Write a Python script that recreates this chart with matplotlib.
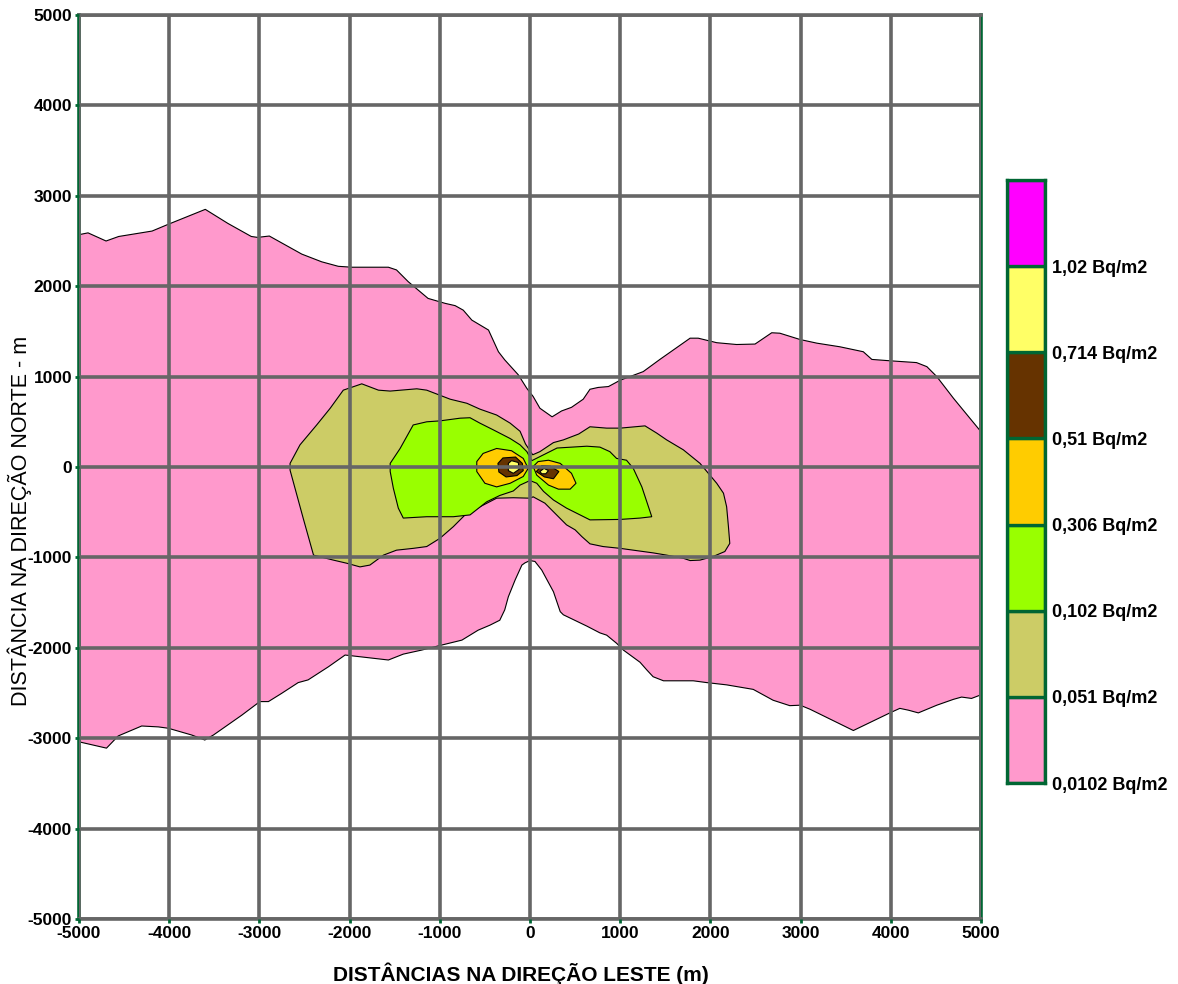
import matplotlib
matplotlib.use("Agg")
import matplotlib.pyplot as plt

plt.rcParams['font.family'] = ['Liberation Sans', 'DejaVu Sans']

# Deposition contour levels (Bq/m2) and the fill used above each level
LEVEL_LABELS = ["0,0102 Bq/m2", "0,051 Bq/m2", "0,102 Bq/m2", "0,306 Bq/m2",
                "0,51 Bq/m2", "0,714 Bq/m2", "1,02 Bq/m2"]
LEVEL_COLORS = ["#FF99CC", "#CCCC66", "#99FF00", "#FFCC00",
                "#663300", "#FFFF66", "#FF00FF"]

TICKS = list(range(-5000, 5001, 1000))

# Contour outlines, (east m, north m)
PINK = [(-5000, 2570), (-4900, 2590), (-4700, 2500), (-4560, 2550), (-4190, 2610),
        (-4010, 2685), (-3600, 2850), (-3350, 2695), (-3090, 2550), (-3020, 2540),
        (-2890, 2555), (-2530, 2355), (-2310, 2270), (-2125, 2220), (-1975, 2210),
        (-1570, 2210), (-1480, 2180), (-1350, 2050), (-1130, 1865), (-940, 1810),
        (-830, 1785), (-740, 1735), (-645, 1625), (-460, 1515), (-350, 1275),
        (-280, 1185), (-130, 1020), (-35, 870), (35, 780), (110, 650), (245, 555),
        (350, 620), (460, 660), (590, 750), (665, 860), (755, 880), (870, 890),
        (1000, 960), (1255, 1055), (1440, 1190), (1775, 1425), (1865, 1425),
        (2070, 1375), (2290, 1355), (2495, 1360), (2680, 1485), (2770, 1480),
        (2995, 1410), (3180, 1370), (3435, 1330), (3695, 1275), (3790, 1190),
        (3990, 1175), (4285, 1155), (4400, 1110), (4510, 1000), (4695, 760),
        (5000, 390), (5000, -2520), (4895, -2560), (4785, -2545), (4695, -2570),
        (4510, -2635), (4305, -2720), (4195, -2690), (4100, -2670), (3990, -2720),
        (3585, -2915), (3105, -2680), (2995, -2635), (2880, -2640), (2695, -2580),
        (2475, -2460), (2180, -2410), (1960, -2385), (1810, -2365), (1480, -2365),
        (1365, -2320), (1295, -2245), (1220, -2160), (1035, -2025), (960, -1950),
        (850, -1860), (775, -1835), (630, -1760), (370, -1635), (335, -1600),
        (260, -1380), (130, -1140), (55, -1045), (0, -1035), (-55, -1060),
        (-90, -1085), (-165, -1250), (-240, -1435), (-280, -1580), (-335, -1695),
        (-445, -1750), (-575, -1805), (-755, -1915), (-980, -1970), (-1200, -2025),
        (-1405, -2070), (-1570, -2135), (-2050, -2080), (-2235, -2210),
        (-2460, -2355), (-2570, -2385), (-2755, -2505), (-2900, -2595),
        (-2995, -2595), (-3195, -2745), (-3510, -2965), (-3605, -3020),
        (-3750, -2965), (-4010, -2890), (-4120, -2875), (-4305, -2865),
        (-4565, -2975), (-4695, -3110), (-5000, -3040)]

KHAKI = [(-2660, 40), (-2550, 245), (-2365, 465), (-2215, 650), (-2070, 850),
         (-1865, 920), (-1680, 850), (-1550, 840), (-1255, 865), (-1145, 850),
         (-885, 750), (-700, 705), (-555, 640), (-370, 575), (-220, 485),
         (-110, 395), (-50, 255), (30, 135), (110, 170), (260, 270), (370, 300),
         (540, 365), (665, 445), (850, 430), (1000, 430), (1275, 455), (1405, 375),
         (1515, 300), (1700, 190), (1885, 40), (2070, -180), (2145, -290),
         (2180, -440), (2200, -660), (2215, -845), (2160, -935), (2030, -990),
         (1885, -1030), (1775, -1035), (1700, -1010), (1515, -975), (1365, -950),
         (1145, -920), (1000, -900), (810, -880), (665, -850), (575, -770),
         (500, -695), (405, -640), (260, -495), (165, -400), (35, -330), (0, -345),
         (-185, -340), (-370, -345), (-555, -440), (-700, -510), (-850, -660),
         (-1000, -790), (-1145, -880), (-1295, -900), (-1480, -920), (-1625, -975),
         (-1700, -1030), (-1775, -1085), (-1885, -1105), (-2030, -1065),
         (-2180, -1030), (-2400, -975), (-2515, -565), (-2660, -35)]

GREEN = [(-1550, 40), (-1440, 205), (-1295, 465), (-1145, 500), (-1000, 510),
         (-775, 540), (-665, 545), (-555, 485), (-405, 410), (-220, 315),
         (-110, 245), (-35, 170), (20, 70), (150, 135), (300, 210), (630, 230),
         (775, 220), (885, 170), (960, 95), (1070, 75), (1145, -15), (1240, -220),
         (1350, -550), (1220, -565), (1000, -580), (665, -585), (555, -530),
         (405, -455), (260, -365), (150, -270), (75, -180), (0, -150), (-110, -200),
         (-185, -265), (-335, -315), (-480, -385), (-665, -530), (-850, -550),
         (-1145, -550), (-1405, -565), (-1460, -455), (-1515, -235), (-1550, -50)]

ORANGE_W = [(-590, 60), (-520, 150), (-370, 205), (-205, 180), (-75, 95), (-20, -15),
            (-75, -105), (-220, -180), (-370, -220), (-500, -180), (-590, -50)]
ORANGE_E = [(35, 5), (90, 60), (205, 75), (335, 40), (460, -70), (510, -180),
            (445, -245), (315, -245), (205, -200), (75, -90)]
BROWN_W = [(-355, 40), (-300, 100), (-160, 110), (-85, 40), (-75, -40), (-145, -95),
           (-265, -110), (-345, -55)]
BROWN_E = [(70, -50), (130, 15), (225, 10), (320, -50), (260, -130), (160, -110)]
YELLOW_W = [(-240, 40), (-205, 70), (-130, 50), (-120, -25), (-185, -70), (-240, -40)]
YELLOW_E = [(110, -50), (155, -15), (205, -40), (175, -75), (130, -75)]

CONTOURS = [(PINK, 0), (KHAKI, 1), (GREEN, 2), (ORANGE_W, 3), (ORANGE_E, 3),
            (BROWN_W, 4), (BROWN_E, 4), (YELLOW_W, 5), (YELLOW_E, 5)]

GRID_GRAY = "#666666"
EDGE_GREEN = "#006633"

fig = plt.figure(figsize=(11.78, 9.84), dpi=100)
ax = fig.add_axes([79 / 1178, 65 / 984, 902 / 1178, 904 / 984])

for outline, level in CONTOURS:
    xs = [p[0] for p in outline]
    ys = [p[1] for p in outline]
    ax.fill(xs, ys, facecolor=LEVEL_COLORS[level], edgecolor="black",
            linewidth=0.8, zorder=1)

ax.set_xlim(-5000, 5000)
ax.set_ylim(-5000, 5000)
ax.set_xticks(TICKS)
ax.set_yticks(TICKS)
ax.set_xticklabels([str(t) for t in TICKS], fontweight="bold")
ax.set_yticklabels([str(t) for t in TICKS], fontweight="bold")
ax.set_axisbelow(False)
ax.grid(True, color=GRID_GRAY, linewidth=2.6)
ax.tick_params(color=EDGE_GREEN, length=3, width=2, labelsize=12.5, pad=2)

for side in ("top", "bottom"):
    ax.spines[side].set_color(GRID_GRAY)
    ax.spines[side].set_linewidth(2.6)
for side in ("left", "right"):
    ax.spines[side].set_color(EDGE_GREEN)
    ax.spines[side].set_linewidth(2.6)

ax.set_xlabel("DISTÂNCIAS NA DIREÇÃO LESTE (m)", fontsize=15, fontweight="bold")
ax.xaxis.set_label_coords(0.49, -0.048)
ax.set_ylabel("DISTÂNCIA NA DIREÇÃO NORTE - m", fontsize=15.5)
ax.yaxis.set_label_coords(-0.052, 0.44)

# Level legend: one stacked band per contour level
cax = fig.add_axes([1007 / 1178, 201 / 984, 38 / 1178, 603 / 984])
for i, color in enumerate(LEVEL_COLORS):
    cax.bar(0, 1, bottom=i, width=1, color=color, edgecolor=EDGE_GREEN,
            linewidth=2.4)
cax.set_xlim(-0.5, 0.5)
cax.set_ylim(0, len(LEVEL_COLORS))
cax.set_xticks([])
cax.yaxis.tick_right()
cax.set_yticks(range(len(LEVEL_LABELS)))
cax.set_yticklabels(LEVEL_LABELS, fontweight="bold", fontsize=13)
cax.tick_params(axis="y", length=0, pad=5)
for spine in cax.spines.values():
    spine.set_color(EDGE_GREEN)
    spine.set_linewidth(2.4)

fig.savefig("out.png", dpi=100)
